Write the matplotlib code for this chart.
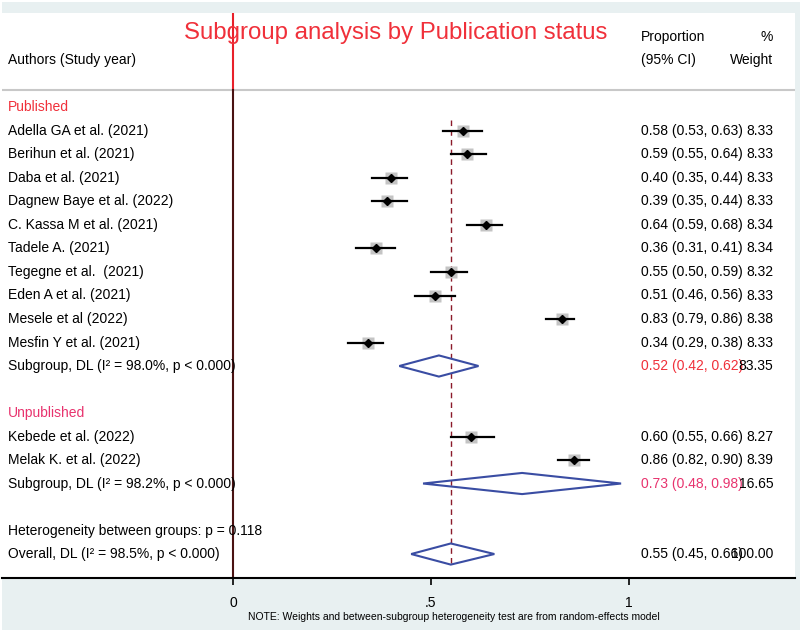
import matplotlib
matplotlib.use('Agg')
import matplotlib.pyplot as plt
from matplotlib.patches import Polygon, Rectangle

plt.rcParams['font.family'] = ['Liberation Sans', 'DejaVu Sans']

# Dados dos estudos
pub_authors = ['Adella GA et al. (2021)', 'Berihun et al. (2021)', 'Daba et al. (2021)',
               'Dagnew Baye et al. (2022)', 'C. Kassa M et al. (2021)', 'Tadele A. (2021)',
               'Tegegne et al.  (2021)', 'Eden A et al. (2021)', 'Mesele et al (2022)',
               'Mesfin Y et al. (2021)']
pub_est = [0.58, 0.59, 0.40, 0.39, 0.64, 0.36, 0.55, 0.51, 0.83, 0.34]
pub_lo = [0.53, 0.55, 0.35, 0.35, 0.59, 0.31, 0.50, 0.46, 0.79, 0.29]
pub_hi = [0.63, 0.64, 0.44, 0.44, 0.68, 0.41, 0.59, 0.56, 0.86, 0.38]
pub_w = [8.33, 8.33, 8.33, 8.33, 8.34, 8.34, 8.32, 8.33, 8.38, 8.33]

unpub_authors = ['Kebede et al. (2022)', 'Melak K. et al. (2022)']
unpub_est = [0.60, 0.86]
unpub_lo = [0.55, 0.82]
unpub_hi = [0.66, 0.90]
unpub_w = [8.27, 8.39]

# Resumos (subgrupos e geral)
sub_labels = ['Subgroup, DL (I² = 98.0%, p < 0.000)', 'Subgroup, DL (I² = 98.2%, p < 0.000)']
sub_est = [0.52, 0.73]
sub_lo = [0.42, 0.48]
sub_hi = [0.62, 0.98]
sub_w = [83.35, 16.65]

overall_label = 'Overall, DL (I² = 98.5%, p < 0.000)'
overall_est, overall_lo, overall_hi, overall_w = 0.55, 0.45, 0.66, 100.00
het_text = 'Heterogeneity between groups: p = 0.118'

fig = plt.figure(figsize=(8, 6.35), dpi=100)
fig.patch.set_facecolor('white')
fig.patches.append(Rectangle((2 / 800, 5 / 635), 798 / 800, 628 / 635, transform=fig.transFigure,
                             facecolor='#e8f0f1', edgecolor='none', zorder=-5))
ax = fig.add_axes([2 / 800, 57 / 635, 793 / 800, 565 / 635])
ax.set_facecolor('white')
ax.set_xlim(-0.5833, 1.4192)
ax.set_ylim(20.02, -4.02)

fs = 10
x_lab = -0.568
x_ci = 1.031
x_w = 1.364
red = '#f0303a'
pink = '#e8336e'
blue = '#3a4da3'


def fmt(e, l, h):
    return '%.2f (%.2f, %.2f)' % (e, l, h)


def study(r, name, e, l, h, w):
    ax.plot([l, h], [r, r], color='black', lw=1.6, zorder=3)
    ax.plot(e, r, marker='s', ms=8.5, color='#c4c4c4', mec='none', zorder=2)
    ax.plot(e, r, marker='D', ms=4.5, color='black', zorder=4)
    ax.text(x_lab, r, name, fontsize=fs, va='center')
    ax.text(x_ci, r, fmt(e, l, h), fontsize=fs, va='center')
    ax.text(x_w, r, '%.2f' % w, fontsize=fs, va='center', ha='right')


def diamond(r, name, e, l, h, w, col):
    ax.add_patch(Polygon([[l, r], [e, r - 0.45], [h, r], [e, r + 0.45]], closed=True,
                         fill=False, edgecolor=blue, lw=1.5, zorder=3))
    ax.text(x_lab, r, name, fontsize=fs, va='center')
    ax.text(x_ci, r, fmt(e, l, h), fontsize=fs, va='center', color=col)
    ax.text(x_w, r, '%.2f' % w, fontsize=fs, va='center', ha='right')


# Grupo publicado
ax.text(x_lab, 0, 'Published', fontsize=fs, va='center', color=red)
for i in range(len(pub_authors)):
    study(1 + i, pub_authors[i], pub_est[i], pub_lo[i], pub_hi[i], pub_w[i])
diamond(11, sub_labels[0], sub_est[0], sub_lo[0], sub_hi[0], sub_w[0], red)

# Grupo não publicado
ax.text(x_lab, 13, 'Unpublished', fontsize=fs, va='center', color=pink)
for i in range(len(unpub_authors)):
    study(14 + i, unpub_authors[i], unpub_est[i], unpub_lo[i], unpub_hi[i], unpub_w[i])
diamond(16, sub_labels[1], sub_est[1], sub_lo[1], sub_hi[1], sub_w[1], pink)

ax.text(x_lab, 18, het_text, fontsize=fs, va='center')
diamond(19, overall_label, overall_est, overall_lo, overall_hi, overall_w, 'black')

# Linhas de referência
ax.plot([overall_est, overall_est], [0.55, 19.5], color='#8b1a2a', lw=1, ls=(0, (4, 3)), zorder=1)
ax.plot([0, 0], [-4.02, -0.75], color='#e8202a', lw=1.5, zorder=1)
ax.plot([0, 0], [-0.75, 20.02], color='#4a1212', lw=1.5, zorder=1)
ax.axhline(-0.75, color='#c8c8c8', lw=1.5, zorder=0)

# Cabeçalho
ax.text(0.41, -3.15, 'Subgroup analysis by Publication status', fontsize=17.3, color=red,
        ha='center', va='center')
ax.text(x_lab, -2.0, 'Authors (Study year)', fontsize=fs, va='center')
ax.text(x_ci, -2.98, 'Proportion', fontsize=fs, va='center')
ax.text(x_ci, -2.0, '(95% CI)', fontsize=fs, va='center')
ax.text(x_w, -2.98, '%', fontsize=fs, va='center', ha='right')
ax.text(x_w, -2.0, 'Weight', fontsize=fs, va='center', ha='right')

# Eixos
for s in ['top', 'right', 'left']:
    ax.spines[s].set_visible(False)
ax.spines['bottom'].set_linewidth(1.5)
ax.set_yticks([])
ax.set_xticks([0, 0.5, 1])
ax.set_xticklabels(['0', '.5', '1'], fontsize=fs)
ax.tick_params(axis='x', length=5, width=1.2, pad=8)

fig.text(454 / 800, 1 - 617 / 635, 'NOTE: Weights and between-subgroup heterogeneity test are from random-effects model',
         fontsize=7.5, ha='center', va='center')

fig.savefig('out.png', dpi=100, facecolor=fig.get_facecolor())
